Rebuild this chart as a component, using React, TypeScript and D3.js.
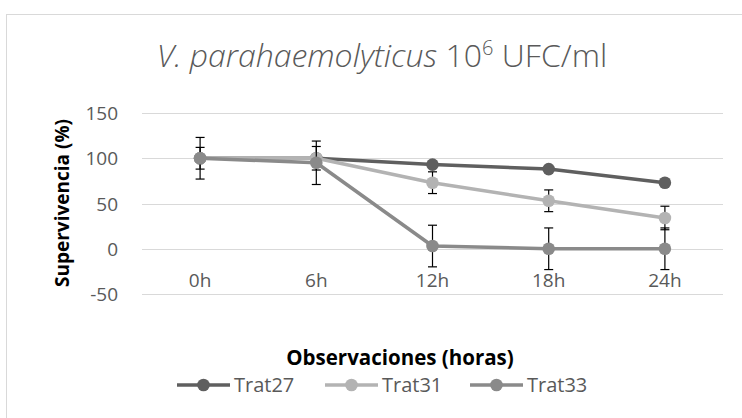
import React from 'react';
import * as d3 from 'd3';

// categories and series values
const hours = ['0h', '6h', '12h', '18h', '24h'];
const yTicks = [-50, 0, 50, 100, 150];

const trat27 = [100, 100, 93, 88, 73];
const trat27Err = [2, 2, 3, 2, 2];
const trat31 = [100, 100, 73, 53, 34];
const trat31Err = [12, 13, 12, 12, 13];
const trat33 = [100, 95, 3, 0, 0];
const trat33Err = [23, 24, 23, 23, 23];

const seriesNames = ['Trat27', 'Trat31', 'Trat33'];
const seriesColors = ['#5f5f5f', '#b3b3b3', '#8a8a8a'];

const font = '"Open Sans", Lato, sans-serif';

export default function App() {
  const width = 742;
  const height = 418;

  const x = d3.scalePoint<string>().domain(hours).range([142, 723]).padding(0.5);
  const y = d3.scaleLinear().domain([-50, 150]).range([294, 113]);

  const series = [
    { name: seriesNames[0], values: trat27, err: trat27Err, color: seriesColors[0] },
    { name: seriesNames[1], values: trat31, err: trat31Err, color: seriesColors[1] },
    { name: seriesNames[2], values: trat33, err: trat33Err, color: seriesColors[2] },
  ];

  const line = d3.line<number>()
    .x((_, i) => x(hours[i]) as number)
    .y(d => y(d));

  const cap = 4.5;

  // legend positions
  const legendX = [177, 325, 470];
  const legendY = 385;

  return (
    <svg width={width} height={height} style={{ position: 'absolute', left: 0, top: 0 }}>
      <rect x={0} y={0} width={width} height={height} fill="#fff" />
      <rect x={6.5} y={14.5} width={745} height={420} fill="#fff" stroke="#d9d9d9" />

      {/* title */}
      <text x={382} y={67} textAnchor="middle" fontFamily={font} fontSize={32} fill="#595959" fontWeight={300}>
        <tspan fontStyle="italic">V. parahaemolyticus</tspan>
        <tspan> 10</tspan>
        <tspan fontSize={20} dy={-12}>6</tspan>
        <tspan dy={12}> UFC/ml</tspan>
      </text>

      {/* gridlines and y ticks */}
      {yTicks.map(t => (
        <g key={t}>
          <line x1={142} x2={723} y1={Math.round(y(t)) + 0.5} y2={Math.round(y(t)) + 0.5} stroke="#d9d9d9" strokeWidth={1} />
          <text x={118} y={y(t) + 7} textAnchor="end" fontFamily={font} fontSize={19} fill="#595959">{t}</text>
        </g>
      ))}

      {/* category labels */}
      {hours.map(h => (
        <text key={h} x={x(h)} y={287} textAnchor="middle" fontFamily={font} fontSize={19} fill="#595959">{h}</text>
      ))}

      {/* series */}
      {series.map(s => (
        <g key={s.name}>
          <path d={line(s.values) || ''} fill="none" stroke={s.color} strokeWidth={3.5} strokeLinejoin="round" />
          {s.values.map((v, i) => {
            const cx = x(hours[i]) as number;
            const top = y(v + s.err[i]);
            const bot = y(v - s.err[i]);
            return (
              <g key={i}>
                <line x1={cx} x2={cx} y1={top} y2={bot} stroke="#000" strokeWidth={1.2} />
                <line x1={cx - cap} x2={cx + cap} y1={top} y2={top} stroke="#000" strokeWidth={1.2} />
                <line x1={cx - cap} x2={cx + cap} y1={bot} y2={bot} stroke="#000" strokeWidth={1.2} />
              </g>
            );
          })}
          {s.values.map((v, i) => (
            <circle key={'c' + i} cx={x(hours[i])} cy={y(v)} r={6.3} fill={s.color} />
          ))}
        </g>
      ))}

      {/* axis titles */}
      <text transform="translate(69,203) rotate(-90)" textAnchor="middle" fontFamily={font} fontSize={19} fontWeight="bold" fill="#000">
        Supervivencia (%)
      </text>
      <text x={400} y={365} textAnchor="middle" fontFamily={font} fontSize={20.5} fontWeight="bold" fill="#000">
        Observaciones (horas)
      </text>

      {/* legend */}
      {series.map((s, i) => (
        <g key={'lg' + s.name}>
          <line x1={legendX[i]} x2={legendX[i] + 53} y1={legendY} y2={legendY} stroke={s.color} strokeWidth={3.5} />
          <circle cx={legendX[i] + 26.5} cy={legendY} r={6.3} fill={s.color} />
          <text x={legendX[i] + 57} y={legendY + 7} fontFamily={font} fontSize={20} fill="#595959">{s.name}</text>
        </g>
      ))}
    </svg>
  );
}
